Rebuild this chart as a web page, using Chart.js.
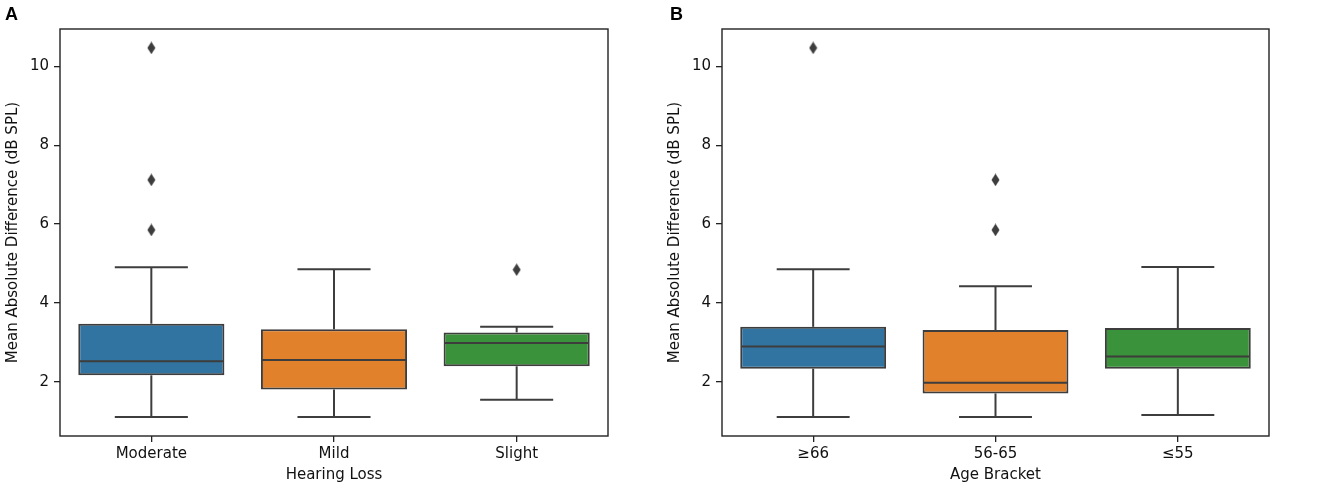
<!DOCTYPE html>
<html><head><meta charset="utf-8">
<script src="https://cdn.jsdelivr.net/npm/chart.js@4"></script>
<style>
html,body{margin:0;padding:0;background:#fff;}
#wrap{position:relative;width:1325px;height:488px;overflow:hidden;background:#fff;}
canvas{position:absolute;top:0;}
.lbl{position:absolute;font:bold 18px "Liberation Sans",Arial,sans-serif;line-height:18px;color:#000;}
</style></head><body>
<div id="wrap">
<canvas id="cA" width="662" height="488" style="left:0"></canvas>
<canvas id="cB" width="663" height="488" style="left:662px"></canvas>
<div class="lbl" style="left:5px;top:5px">A</div>
<div class="lbl" style="left:670px;top:5px">B</div>
</div>
<script>
// ---- data ----
const yTicks = [2, 4, 6, 8, 10];
const yMin = 0.62, yMax = 10.95;
const yTitle = 'Mean Absolute Difference (dB SPL)';

const hearingCategories = ['Moderate', 'Mild', 'Slight'];
const hearingQ1 = [2.16, 1.80, 2.39];
const hearingMedian = [2.52, 2.55, 2.98];
const hearingQ3 = [3.47, 3.33, 3.25];
const hearingWhiskerLow = [1.10, 1.10, 1.54];
const hearingWhiskerHigh = [4.90, 4.85, 3.39];
const hearingOutlierCats = ['Moderate', 'Moderate', 'Moderate', 'Slight'];
const hearingOutlierValues = [10.47, 7.12, 5.85, 4.84];

const ageCategories = ['≥66', '56-65', '≤55'];
const ageQ1 = [2.33, 1.70, 2.33];
const ageMedian = [2.89, 1.97, 2.64];
const ageQ3 = [3.39, 3.31, 3.36];
const ageWhiskerLow = [1.10, 1.10, 1.15];
const ageWhiskerHigh = [4.85, 4.42, 4.91];
const ageOutlierCats = ['≥66', '56-65', '56-65'];
const ageOutlierValues = [10.47, 7.12, 5.85];

// ---- styles ----
const boxColors = ['#3274a1', '#e1812c', '#3a923a'];
const LINE = '#3d3d3d';
const AXIS = '#222222';
const TEXT = '#111111';
const FONT = {family: '"DejaVu Sans", sans-serif', size: 15};

function diamond() {
  const c = document.createElement('canvas');
  c.width = 9; c.height = 13;
  const g = c.getContext('2d');
  g.fillStyle = LINE;
  g.beginPath();
  g.moveTo(4.5, 0.3); g.lineTo(8.5, 6.5); g.lineTo(4.5, 12.7); g.lineTo(0.5, 6.5);
  g.closePath(); g.fill();
  return c;
}
const diamondImg = diamond();

const boxPlugin = {
  id: 'boxExtras',
  afterDatasetsDraw(chart) {
    const {ctx, scales: {x, y}} = chart;
    const d = chart.options.plugins.boxExtras;
    const meta = chart.getDatasetMeta(0);
    ctx.save();
    ctx.strokeStyle = LINE;
    ctx.lineWidth = 2;
    const seg = (x1, y1, x2, y2) => { ctx.beginPath(); ctx.moveTo(x1, y1); ctx.lineTo(x2, y2); ctx.stroke(); };
    meta.data.forEach((bar, i) => {
      const xc = x.getPixelForValue(i);
      const w = bar.width;
      const hw = w / 4;
      const yHi = y.getPixelForValue(d.hi[i]);
      const yLo = y.getPixelForValue(d.lo[i]);
      const yQ3 = y.getPixelForValue(d.q3[i]);
      const yQ1 = y.getPixelForValue(d.q1[i]);
      const yMed = y.getPixelForValue(d.med[i]);
      seg(xc, yQ3, xc, yHi);
      seg(xc, yQ1, xc, yLo);
      seg(xc - hw, yHi, xc + hw, yHi);
      seg(xc - hw, yLo, xc + hw, yLo);
      seg(xc - w / 2 + 1, yMed, xc + w / 2 - 1, yMed);
    });
    const a = chart.chartArea;
    ctx.strokeStyle = AXIS;
    ctx.lineWidth = 1.4;
    ctx.strokeRect(a.left, a.top, a.right - a.left, a.bottom - a.top);
    ctx.restore();
  }
};

function makePanel(id, cats, q1, med, q3, lo, hi, oCats, oVals, xTitle, rightPad) {
  return new Chart(document.getElementById(id), {
    type: 'bar',
    data: {
      labels: cats,
      datasets: [
        {
          type: 'bar',
          data: cats.map((c, i) => [q1[i], q3[i]]),
          backgroundColor: boxColors,
          borderColor: LINE,
          borderWidth: 2,
          borderSkipped: false,
          barPercentage: 0.8,
          categoryPercentage: 1.0,
          order: 2
        },
        {
          type: 'line',
          showLine: false,
          data: oCats.map((c, i) => ({x: c, y: oVals[i]})),
          pointStyle: diamondImg,
          pointRadius: 6,
          order: 1
        }
      ]
    },
    options: {
      responsive: false,
      animation: false,
      layout: {padding: {top: 29, right: rightPad, left: 0, bottom: 0}},
      plugins: {
        legend: {display: false},
        tooltip: {enabled: false},
        boxExtras: {q1, med, q3, lo, hi}
      },
      scales: {
        x: {
          type: 'category',
          offset: true,
          grid: {offset: false, drawOnChartArea: false, drawTicks: true, tickLength: 6, color: AXIS, lineWidth: 1.3},
          border: {display: false},
          ticks: {font: FONT, color: TEXT, padding: 3, maxRotation: 0, autoSkip: false},
          title: {display: true, text: xTitle, font: FONT, color: TEXT, padding: {top: 4, bottom: 4}},
          afterFit(s) { s.height = 52; }
        },
        y: {
          type: 'linear',
          min: yMin,
          max: yMax,
          afterBuildTicks(s) { s.ticks = yTicks.map(v => ({value: v})); },
          grid: {drawOnChartArea: false, drawTicks: true, tickLength: 6, color: AXIS, lineWidth: 1.3},
          border: {display: false},
          ticks: {font: FONT, color: TEXT, padding: 5},
          title: {display: true, text: yTitle, font: FONT, color: TEXT, padding: {top: 4, bottom: 4}},
          afterFit(s) { s.width = 60; }
        }
      }
    },
    plugins: [boxPlugin]
  });
}

makePanel('cA', hearingCategories, hearingQ1, hearingMedian, hearingQ3, hearingWhiskerLow, hearingWhiskerHigh,
  hearingOutlierCats, hearingOutlierValues, 'Hearing Loss', 54);
makePanel('cB', ageCategories, ageQ1, ageMedian, ageQ3, ageWhiskerLow, ageWhiskerHigh,
  ageOutlierCats, ageOutlierValues, 'Age Bracket', 56);
</script>
</body></html>
